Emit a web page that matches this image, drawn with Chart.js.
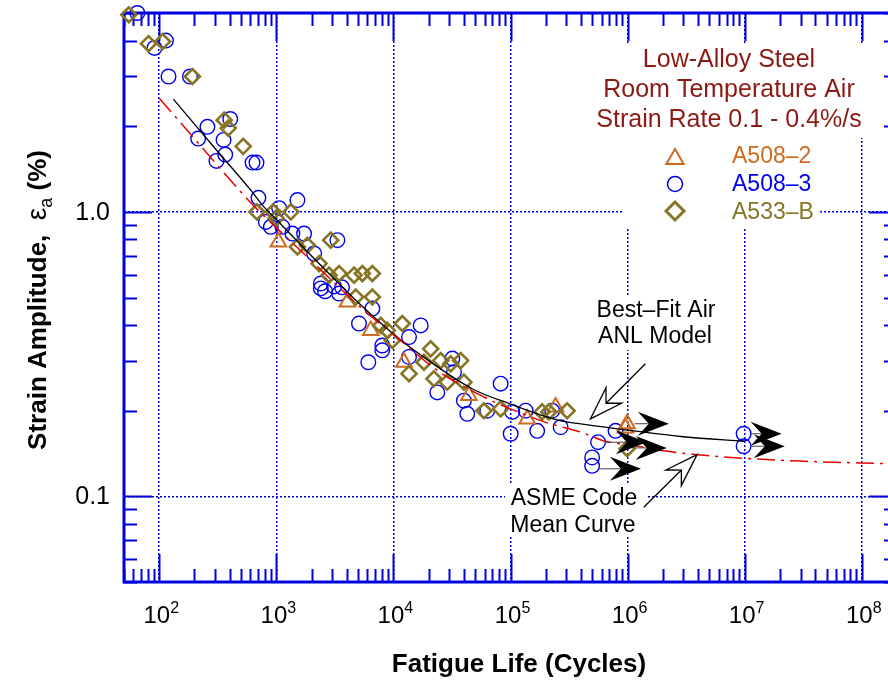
<!DOCTYPE html>
<html>
<head>
<meta charset="utf-8">
<script src="https://cdn.jsdelivr.net/npm/chart.js@4/dist/chart.umd.min.js"></script>
<style>
  html, body { margin: 0; padding: 0; background: #fff; overflow: hidden; }
  #wrap { width: 888px; height: 680px; overflow: hidden; position: relative; }
  #fatigue-chart { position: absolute; left: 0; top: 0; }
</style>
</head>
<body>
<div id="wrap"><canvas id="fatigue-chart" width="910" height="680"></canvas></div>
<script>
// Low-alloy steel strain-life data in room temperature air

const FONT = '"Liberation Sans", Arial, Helvetica, sans-serif';

// Axis ranges and tick labels
const xMin = 50, xMax = 2e8;
const yMin = 0.05, yMax = 5;
const xDecades = [1e2, 1e3, 1e4, 1e5, 1e6, 1e7, 1e8];
const xExponents = ['2', '3', '4', '5', '6', '7', '8'];
const yDecades = [0.1, 1];
const yDecadeLabels = ['0.1', '1.0'];

// A508-2 (triangles)
const a5082Cycles = [1042, 4048, 6397, 12300, 44150, 139000, 242700, 990000, 960000];
const a5082Strain = [0.784, 0.482, 0.383, 0.296, 0.226, 0.187, 0.206, 0.180, 0.174];

// A508-3 (circles)
const a5083Cycles = [65, 91, 114, 120, 183, 258, 215, 404, 354, 366, 308, 626, 677, 703,
  1514, 1057, 813, 897, 1127, 1371, 1725, 3321, 2102, 2399, 2399, 2606, 3112, 3436, 3640,
  6610, 5082, 17100, 13590, 8035, 8035, 6105, 13590, 31850, 32890, 23710, 40000, 42740,
  82380, 63240, 103500, 134700, 100300, 169000, 227000, 268000, 789000, 560000, 498000,
  498000, 9.8e6, 9.8e6];
const a5083Strain = [5.0, 3.77, 4.0, 2.99, 2.99, 1.99, 1.81, 2.12, 1.79, 1.59, 1.51, 1.49, 1.49, 1.12,
  1.10, 1.03, 0.922, 0.886, 0.886, 0.839, 0.839, 0.795, 0.714, 0.560, 0.538, 0.526, 0.547, 0.516, 0.543,
  0.457, 0.405, 0.399, 0.363, 0.339, 0.326, 0.296, 0.309, 0.305, 0.273, 0.232, 0.217, 0.195,
  0.249, 0.200, 0.198, 0.200, 0.166, 0.170, 0.200, 0.175, 0.170, 0.155, 0.137,
  0.128, 0.166, 0.150];

// A533-B (diamonds)
const a533bCycles = [55, 81, 107, 192, 359, 388, 521, 682, 940, 1330, 996, 1514, 1842, 2915,
  2319, 2823, 3436, 4613, 5432, 6610, 4768, 6610, 7794, 8873, 11910, 9795, 20800, 18240,
  25350, 30840, 37520, 13590, 22180, 28840, 40000, 59290, 82380, 186200, 212700, 304800, 990000];
const a533bStrain = [4.93, 3.90, 3.97, 2.99, 2.10, 1.97, 1.70, 1.0, 1.0, 1.0, 0.95, 0.753, 0.763, 0.795,
  0.658, 0.599, 0.607, 0.599, 0.607, 0.607, 0.502, 0.502, 0.399, 0.383, 0.405, 0.353, 0.330, 0.296,
  0.300, 0.292, 0.300, 0.270, 0.259, 0.252, 0.252, 0.200, 0.203, 0.198, 0.198, 0.200, 0.147];

// Best-fit ANL model curve (black)
const anlCycles = [132, 300, 607, 760, 1000, 2000, 5000, 11200, 20000, 47000, 97000, 260000, 384000, 1e6, 3e6, 1e7];
const anlStrain = [2.49, 1.67, 1.19, 1.056, 0.94, 0.70, 0.48, 0.358, 0.30, 0.239, 0.212, 0.185, 0.180, 0.171, 0.162, 0.156];

// ASME Code mean curve (red dash-dot)
const asmeCycles = [100, 190, 300, 600, 1000, 1800, 3400, 6000, 1e4, 2.5e4, 6e4, 1e5, 2e5, 4e5, 6.5e5, 1e6, 2.2e6, 4e6, 1e7, 3e7, 1e8, 2e8];
const asmeStrain = [2.51, 1.85, 1.49, 1.08, 0.88, 0.70, 0.545, 0.44, 0.37, 0.273, 0.223, 0.203, 0.182, 0.168, 0.156, 0.152, 0.144, 0.140, 0.136, 0.133, 0.131, 0.130];

// Run-out tests (arrow from the test point to the arrow tip)
const runoutCycles = [1.0e6, 5.6e5, 1.0e6, 5.0e5, 9.8e6, 9.8e6];
const runoutStrain = [0.180, 0.155, 0.148, 0.125, 0.166, 0.150];
const runoutTipCycles = [2.25e6, 1.46e6, 2.16e6, 1.3e6, 2.07e7, 2.2e7];

// Legend
const seriesNames = ['A508–2', 'A508–3', 'A533–B'];
const titleLines = ['Low-Alloy Steel', 'Room Temperature Air', 'Strain Rate 0.1 - 0.4%/s'];

// Colours
const axisBlue = '#0000dd';
const orange = '#cf6a1e';
const blue = '#0000ee';
const olive = '#857524';
const titleRed = '#8b1a14';

const pts = (xs, ys) => xs.map((v, i) => ({ x: v, y: ys[i] }));

// Callout arrows: tail -> tip in data coordinates
const calloutAnl = { tail: [1.42e6, 0.2925], tip: [4.82e5, 0.1873] };
const calloutAsme = { tail: [1.374e6, 0.0915], tip: [3.92e6, 0.1402] };

function minorValues(min, max) {
    const out = [];
    for (let e = -3; e <= 9; e++) {
        for (let m = 1; m <= 9; m++) {
            const v = m * Math.pow(10, e);
            if (v >= min * 0.999 && v <= max * 1.001) out.push({ v, major: m === 1 });
        }
    }
    return out;
}

function stealth(ctx, len, half, notch) {
    ctx.beginPath();
    ctx.moveTo(0, 0);
    ctx.lineTo(-len, -half);
    ctx.lineTo(-notch, 0);
    ctx.lineTo(-len, half);
    ctx.closePath();
}

function drawCallout(ctx, x0, y0, x1, y1) {
    const ang = Math.atan2(y1 - y0, x1 - x0);
    const len = Math.hypot(x1 - x0, y1 - y0);
    ctx.save();
    ctx.translate(x1, y1);
    ctx.rotate(ang);
    ctx.strokeStyle = '#000';
    ctx.lineWidth = 1.3;
    ctx.beginPath();
    ctx.moveTo(-len, 0);
    ctx.lineTo(-22, 0);
    ctx.stroke();
    stealth(ctx, 33, 11, 22);
    ctx.fillStyle = '#fff';
    ctx.fill();
    ctx.stroke();
    ctx.restore();
}

function marker(ctx, style, x, y, r, color, lw) {
    ctx.save();
    ctx.strokeStyle = color;
    ctx.fillStyle = 'rgba(0,0,0,0)';
    ctx.lineWidth = lw;
    Chart.helpers.drawPoint(ctx, { pointStyle: style, radius: r, borderWidth: lw, rotation: 0 }, x, y);
    ctx.restore();
}

const decorPlugin = {
    id: 'decor',
    beforeDatasetsDraw(chart) {
        const { ctx, chartArea: a, scales: { x, y } } = chart;
        ctx.save();

        // white panels behind the annotation texts
        ctx.fillStyle = '#fff';
        ctx.fillRect(590, 43, 280, 95);
        ctx.fillRect(623, 137, 195, 91);
        ctx.fillRect(594, 295, 124, 55);
        ctx.fillRect(505, 483, 142, 52);

        // frame
        ctx.strokeStyle = axisBlue;
        ctx.lineWidth = 3;
        ctx.strokeRect(a.left, a.top, a.right - a.left, a.bottom - a.top);

        // inward ticks on all four sides
        ctx.lineWidth = 2;
        ctx.beginPath();
        minorValues(xMin, xMax).forEach(t => {
            const px = Math.round(x.getPixelForValue(t.v)) + 0.5;
            const len = t.major ? 28 : 13;
            ctx.moveTo(px, a.bottom); ctx.lineTo(px, a.bottom - len);
            ctx.moveTo(px, a.top); ctx.lineTo(px, a.top + len);
        });
        minorValues(yMin, yMax).forEach(t => {
            const py = Math.round(y.getPixelForValue(t.v)) + 0.5;
            const len = t.major ? 28 : 13;
            ctx.moveTo(a.left, py); ctx.lineTo(a.left + len, py);
            ctx.moveTo(a.right, py); ctx.lineTo(a.right - len, py);
        });
        ctx.stroke();

        // x tick labels 10^n
        ctx.fillStyle = '#000';
        ctx.textBaseline = 'alphabetic';
        ctx.textAlign = 'left';
        xDecades.forEach((v, i) => {
            const px = x.getPixelForValue(v);
            ctx.font = `24px ${FONT}`;
            const wb = ctx.measureText('10').width;
            ctx.font = `16px ${FONT}`;
            const we = ctx.measureText(xExponents[i]).width;
            const left = px - (wb + we) / 2 + 2;
            ctx.font = `24px ${FONT}`;
            ctx.fillText('10', left, 623);
            ctx.font = `16px ${FONT}`;
            ctx.fillText(xExponents[i], left + wb, 613);
        });

        // y tick labels
        ctx.font = `25px ${FONT}`;
        ctx.textAlign = 'right';
        ctx.textBaseline = 'middle';
        yDecades.forEach((v, i) => {
            ctx.fillText(yDecadeLabels[i], 110, y.getPixelForValue(v) + 1);
        });

        // x title
        ctx.font = `bold 26px ${FONT}`;
        ctx.textAlign = 'center';
        ctx.textBaseline = 'alphabetic';
        ctx.fillText('Fatigue Life (Cycles)', 519, 672);

        // y title with subscript
        ctx.save();
        ctx.translate(46, 300);
        ctx.rotate(-Math.PI / 2);
        ctx.textAlign = 'left';
        const partMain = 'Strain Amplitude,  ';
        const partTail = ' (%)';
        ctx.font = `bold 26px ${FONT}`;
        const w1 = ctx.measureText(partMain).width;
        const w4 = ctx.measureText(partTail).width;
        ctx.font = `28px ${FONT}`;
        const w2 = ctx.measureText('ε').width;
        ctx.font = `18px ${FONT}`;
        const w3 = ctx.measureText('a').width;
        let cx = -(w1 + w2 + w3 + w4) / 2;
        ctx.font = `bold 26px ${FONT}`;
        ctx.fillText(partMain, cx, 0); cx += w1;
        ctx.font = `28px ${FONT}`;
        ctx.fillText('ε', cx, 0); cx += w2;
        ctx.font = `18px ${FONT}`;
        ctx.fillText('a', cx, 6); cx += w3;
        ctx.font = `bold 26px ${FONT}`;
        ctx.fillText(partTail, cx, 0);
        ctx.restore();

        // title block
        ctx.fillStyle = titleRed;
        ctx.font = `25px ${FONT}`;
        ctx.textAlign = 'center';
        titleLines.forEach((t, i) => ctx.fillText(t, 729, 67 + i * 30));

        // legend
        const legendStyles = ['triangle', 'circle', 'rectRot'];
        const legendColors = [orange, blue, olive];
        const legendRadius = [10, 7.5, 9];
        const legendWidth = [2, 1.5, 3];
        ctx.font = `23px ${FONT}`;
        ctx.textAlign = 'left';
        seriesNames.forEach((name, i) => {
            const my = 157 + i * 27;
            marker(ctx, legendStyles[i], 675, my + (i === 0 ? 2 : 0), legendRadius[i], legendColors[i], legendWidth[i]);
            ctx.fillStyle = legendColors[i];
            ctx.fillText(name, 732, 163 + i * 28);
        });

        // callout texts
        ctx.fillStyle = '#000';
        ctx.font = `23px ${FONT}`;
        ctx.textAlign = 'center';
        ctx.fillText('Best–Fit Air', 656, 317);
        ctx.fillText('ANL Model', 655, 343);
        ctx.fillText('ASME Code', 574, 505);
        ctx.fillText('Mean Curve', 573, 532);

        ctx.restore();
    },
    afterDatasetsDraw(chart) {
        const { ctx, scales: { x, y } } = chart;
        ctx.save();
        // run-out arrows
        runoutCycles.forEach((n, i) => {
            const px = x.getPixelForValue(n);
            const py = y.getPixelForValue(runoutStrain[i]);
            const tx = x.getPixelForValue(runoutTipCycles[i]);
            ctx.strokeStyle = '#444';
            ctx.lineWidth = 1;
            ctx.beginPath();
            ctx.moveTo(px + 7, py);
            ctx.lineTo(tx - 20, py);
            ctx.stroke();
            ctx.save();
            ctx.translate(tx, py);
            stealth(ctx, 31, 12, 20);
            ctx.fillStyle = '#000';
            ctx.fill();
            ctx.restore();
        });
        // callout arrows
        [calloutAnl, calloutAsme].forEach(c => {
            drawCallout(ctx,
                x.getPixelForValue(c.tail[0]), y.getPixelForValue(c.tail[1]),
                x.getPixelForValue(c.tip[0]), y.getPixelForValue(c.tip[1]));
        });
        ctx.restore();
    }
};

const gridOpts = { color: axisBlue, lineWidth: 1.5, drawTicks: false };

new Chart(document.getElementById('fatigue-chart'), {
    type: 'scatter',
    data: {
        datasets: [
            {
                label: 'ASME Code Mean Curve',
                data: pts(asmeCycles, asmeStrain),
                showLine: true, pointRadius: 0,
                borderColor: '#e80000', borderWidth: 1.5,
                borderDash: [18, 6, 3, 6],
                cubicInterpolationMode: 'monotone',
                order: 0
            },
            {
                label: 'Best-Fit Air ANL Model',
                data: pts(anlCycles, anlStrain),
                showLine: true, pointRadius: 0,
                borderColor: '#000', borderWidth: 1.3,
                cubicInterpolationMode: 'monotone',
                order: 0
            },
            {
                label: seriesNames[2],
                data: pts(a533bCycles, a533bStrain),
                pointStyle: 'rectRot', pointRadius: 7.5, pointBorderWidth: 2.6,
                borderColor: olive, backgroundColor: 'rgba(0,0,0,0)',
                clip: false, order: 1
            },
            {
                label: seriesNames[0],
                data: pts(a5082Cycles, a5082Strain),
                pointStyle: 'triangle', pointRadius: 9, pointBorderWidth: 2,
                borderColor: orange, backgroundColor: 'rgba(0,0,0,0)',
                clip: false, order: 2
            },
            {
                label: seriesNames[1],
                data: pts(a5083Cycles, a5083Strain),
                pointStyle: 'circle', pointRadius: 7.3, pointBorderWidth: 1.4,
                borderColor: blue, backgroundColor: 'rgba(0,0,0,0)',
                clip: false, order: 3
            }
        ]
    },
    options: {
        responsive: false,
        animation: false,
        events: [],
        // canvas is wider than the page: the plot frame's right edge is cut off
        layout: { padding: { top: 13, right: 13, left: 0, bottom: 0 } },
        plugins: { legend: { display: false }, tooltip: { enabled: false } },
        scales: {
            x: {
                type: 'logarithmic', min: xMin, max: xMax,
                afterFit: s => { s.height = 98; },
                afterBuildTicks: s => { s.ticks = xDecades.map(v => ({ value: v })); },
                ticks: { display: false },
                grid: gridOpts,
                border: { display: false, dash: [2, 2] }
            },
            y: {
                type: 'logarithmic', min: yMin, max: yMax,
                afterFit: s => { s.width = 124; },
                afterBuildTicks: s => { s.ticks = yDecades.map(v => ({ value: v })); },
                ticks: { display: false },
                grid: gridOpts,
                border: { display: false, dash: [2, 2] }
            }
        }
    },
    plugins: [decorPlugin]
});
</script>
</body>
</html>
